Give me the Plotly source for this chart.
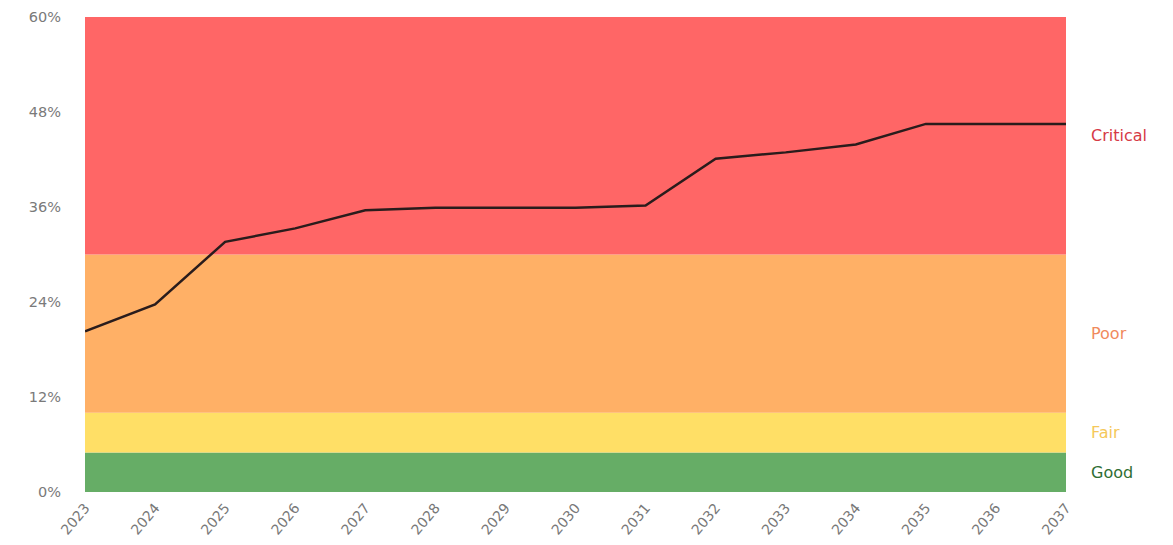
import plotly.graph_objects as go

years = list(range(2023, 2038))
values = [20.3, 23.7, 31.6, 33.3, 35.6, 35.9, 35.9, 35.9, 36.2, 42.1, 42.9, 43.9, 46.5, 46.5, 46.5]

band_names = ["Good", "Fair", "Poor", "Critical"]
band_lower = [0, 5, 10, 30]
band_upper = [5, 10, 30, 60]
band_fill = ["#66ad66", "#ffdf66", "#ffb066", "#ff6666"]
band_text = ["#2f6e33", "#f5c85a", "#f08a5d", "#d63a45"]

y_ticks = [0, 12, 24, 36, 48, 60]
y_tick_labels = [f"{v}%" for v in y_ticks]

fig = go.Figure()

shapes = []
annotations = []
for name, lo, hi, fc, tc in zip(band_names, band_lower, band_upper, band_fill, band_text):
    shapes.append(dict(type="rect", xref="paper", yref="y", x0=0, x1=1, y0=lo, y1=hi,
                       fillcolor=fc, line=dict(width=0), layer="below"))
    annotations.append(dict(xref="paper", yref="y", x=1.023, y=(lo + hi) / 2, text=name,
                            showarrow=False, xanchor="left",
                            font=dict(color=tc, size=16, family="DejaVu Sans")))

fig.add_trace(go.Scatter(x=years, y=values, mode="lines",
                         line=dict(color="#2a1c1c", width=2.5), showlegend=False,
                         hoverinfo="x+y"))

fig.update_layout(
    width=1157, height=529,
    margin=dict(l=77, r=99, t=9, b=45, autoexpand=False),
    paper_bgcolor="white", plot_bgcolor="white",
    shapes=shapes, annotations=annotations,
    font=dict(family="DejaVu Sans", color="#666666", size=12),
)
fig.update_xaxes(range=[2023, 2037], tickvals=years, ticktext=[str(y) for y in years],
                 tickangle=-50, showgrid=False, zeroline=False, showline=False,
                 automargin=False, ticklabeloverflow="allow", ticklabelstandoff=4,
                 tickfont=dict(size=14, color="#787878"))
fig.update_yaxes(range=[0, 60], tickvals=y_ticks, ticktext=y_tick_labels, showgrid=False,
                 zeroline=False, showline=False, ticklabelstandoff=23, automargin=False,
                 ticklabeloverflow="allow",
                 tickfont=dict(size=14.5, color="#7a7a7a"))

fig.write_html("out.html")
